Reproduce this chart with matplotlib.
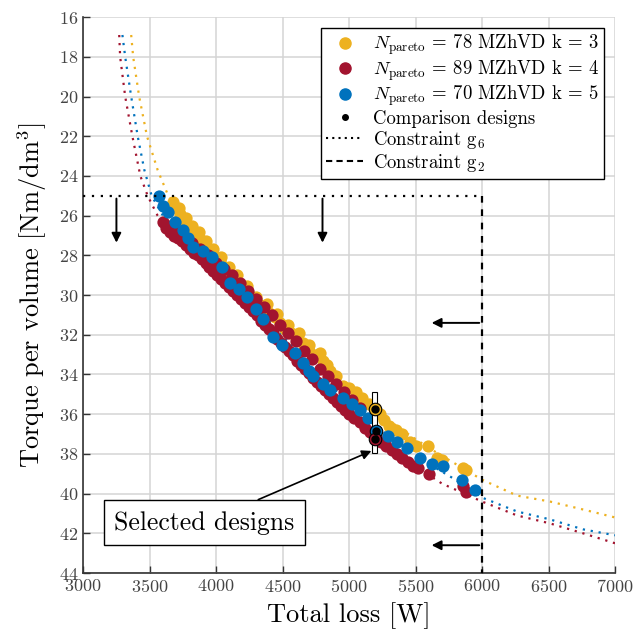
# Pareto fronts of three MZhVD runs with constraints g2 and g6
import numpy as np
import matplotlib
matplotlib.use('Agg')
import matplotlib.pyplot as plt
from matplotlib.lines import Line2D
from matplotlib.patches import Rectangle

plt.rcParams['font.family'] = 'serif'
plt.rcParams['font.serif'] = ['cmr10']
plt.rcParams['mathtext.fontset'] = 'cm'
plt.rcParams['axes.unicode_minus'] = False
plt.rcParams['axes.formatter.use_mathtext'] = True

c_yellow = '#EDB120'
c_red = '#A2142F'
c_blue = '#0072BD'

# pareto designs (total loss [W], torque per volume [Nm/dm3])
yellow_x = [3677, 3700, 3730, 3760, 3790, 3820, 3850, 3880, 3910, 3940, 3970, 4000,
            4030, 4060, 4090, 4120, 4150, 4180, 4210, 4250, 4290, 4330, 4353, 4400,
            4444, 4480, 4520, 4560, 4600, 4654, 4700, 4750, 4800, 4835, 4857, 4900,
            4955, 5000, 5050, 5100, 5150, 5196, 5230, 5260, 5300, 5350, 5400, 5459,
            5500, 5594, 5662, 5700, 5858, 5880,
            3720, 3770, 3820, 3870, 3920, 3980, 4040, 4100, 4160, 4230, 4300, 4380,
            4460, 4540, 4620, 4700, 4780]
yellow_y = [25.3, 25.6, 25.9, 26.2, 26.5, 26.8, 27.0, 27.2, 27.5, 27.7, 27.9, 28.1,
            28.3, 28.6, 28.8, 29.0, 29.3, 29.5, 29.7, 30.0, 30.3, 30.5, 30.6, 30.9,
            31.1, 31.4, 31.7, 31.9, 32.1, 32.4, 32.8, 33.0, 33.3, 33.5, 33.8, 34.1,
            34.6, 34.7, 34.9, 35.2, 35.5, 35.7, 36.0, 36.3, 36.6, 36.8, 37.0, 37.4,
            37.6, 37.6, 38.2, 38.3, 38.7, 38.8,
            25.6, 26.1, 26.5, 26.8, 27.3, 27.7, 28.1, 28.6, 29.0, 29.55, 30.1, 30.45,
            30.95, 31.5, 31.9, 32.5, 32.9]

red_x = [3600, 3620, 3650, 3680, 3710, 3740, 3770, 3800, 3830, 3860, 3890, 3920,
         3950, 3980, 4010, 4040, 4070, 4100, 4130, 4160, 4190, 4220, 4250, 4280,
         4310, 4340, 4370, 4400, 4430, 4460, 4490, 4520, 4550, 4580, 4610, 4640,
         4670, 4700, 4730, 4760, 4790, 4820, 4850, 4880, 4910, 4940, 4970, 5000,
         5040, 5080, 5120, 5160, 5200, 5240, 5280, 5320, 5360, 5400, 5440, 5480,
         5520, 5600, 5860, 5880,
         3640, 3700, 3760, 3820, 3880, 3940, 4000, 4060, 4120, 4180, 4240, 4300,
         4360, 4420, 4480, 4540, 4600, 4660, 4720, 4780, 4840, 4900, 4960, 5020,
         5080]
red_y = [26.3, 26.6, 26.8, 27.0, 27.1, 27.3, 27.5, 27.7, 27.9, 28.0, 28.2, 28.4,
         28.6, 28.8, 29.0, 29.2, 29.4, 29.6, 29.8, 30.0, 30.2, 30.4, 30.6, 30.8,
         31.0, 31.3, 31.5, 31.7, 31.9, 32.2, 32.4, 32.6, 32.8, 33.0, 33.3, 33.5,
         33.7, 33.9, 34.2, 34.4, 34.6, 34.8, 35.0, 35.2, 35.4, 35.6, 35.8, 36.0,
         36.2, 36.4, 36.7, 36.9, 37.1, 37.4, 37.6, 37.8, 38.0, 38.2, 38.4, 38.6,
         38.7, 39.0, 39.6, 39.9,
         26.5, 26.8, 27.1, 27.4, 27.7, 28.0, 28.4, 28.7, 29.0, 29.4, 29.8, 30.2,
         30.6, 31.0, 31.5, 31.9, 32.3, 32.8, 33.2, 33.7, 34.1, 34.5, 34.9, 35.3,
         35.7]

blue_x = [3572, 3600, 3640, 3692, 3752, 3790, 3827, 3900, 3970, 4045, 4105, 4170,
          4233, 4300, 4353, 4429, 4497, 4594, 4654, 4700, 4730, 4800, 4857, 4955,
          5020, 5083, 5140, 5203, 5294, 5360, 5436, 5534, 5624, 5707, 5850, 5948]
blue_y = [25.0, 25.5, 25.8, 26.3, 26.7, 27.1, 27.6, 27.8, 28.1, 28.6, 29.4, 29.7,
          30.1, 30.7, 31.2, 32.1, 32.5, 32.9, 33.4, 33.8, 34.1, 34.5, 34.8, 35.2,
          35.5, 35.8, 36.2, 36.85, 37.1, 37.4, 37.7, 38.2, 38.5, 38.6, 39.3, 39.8]

# fitted fronts
yellow_fit_x = [3361, 3376, 3421, 3480, 3560, 3640, 3800, 4000, 4200, 4400, 4600,
                4800, 5000, 5200, 5400, 5600, 5800, 6000, 6263, 6511, 6760, 7000]
yellow_fit_y = [16.9, 18.0, 20.0, 22.0, 23.7, 25.0, 26.6, 28.0, 29.4, 30.8, 32.1,
                33.4, 34.6, 35.8, 36.8, 37.7, 38.5, 39.3, 40.1, 40.4, 40.8, 41.2]
blue_fit_x = [3295, 3316, 3361, 3410, 3460, 3515, 3600, 3800, 4000, 4200, 4400, 4600,
              4800, 5000, 5200, 5400, 5600, 5800, 6000, 6263, 6511, 6760, 7000]
blue_fit_y = [16.9, 18.0, 20.0, 22.0, 23.7, 25.0, 26.0, 27.4, 28.6, 29.9, 31.3, 32.8,
              34.2, 35.4, 36.6, 37.6, 38.5, 39.3, 40.2, 40.9, 41.3, 41.8, 42.1]
red_fit_x = [3271, 3278, 3316, 3370, 3430, 3485, 3560, 3800, 4000, 4200, 4400, 4600,
             4880, 5105, 5400, 5700, 6000, 6263, 6511, 6760, 7000]
red_fit_y = [16.9, 18.0, 20.0, 22.0, 24.0, 25.0, 26.0, 27.9, 29.0, 30.3, 31.7, 33.2,
             35.4, 36.6, 38.2, 39.5, 40.4, 41.1, 41.5, 42.0, 42.5]

# selected (comparison) designs
sel_x = [5196, 5203, 5196]
sel_y = [35.75, 36.85, 37.25]
sel_colors = [c_yellow, c_blue, c_red]

fig = plt.figure(figsize=(6.35, 6.35), dpi=100)
ax = fig.add_subplot(111)
fig.subplots_adjust(left=0.131, right=0.9685, bottom=0.0976, top=0.973)

dot = (0, (1, 2.6))
ax.plot(yellow_fit_x, yellow_fit_y, color=c_yellow, ls=dot, lw=1.6, zorder=2)
ax.plot(blue_fit_x, blue_fit_y, color=c_blue, ls=dot, lw=1.6, zorder=2)
ax.plot(red_fit_x, red_fit_y, color=c_red, ls=dot, lw=1.6, zorder=2)

ms = 78
ax.scatter(yellow_x, yellow_y, s=ms, color=c_yellow, linewidths=0, zorder=3)
ax.scatter(red_x, red_y, s=ms, color=c_red, linewidths=0, zorder=3)
ax.scatter(blue_x, blue_y, s=ms, color=c_blue, linewidths=0, zorder=3)

# box around selected designs
ax.add_patch(Rectangle((5172, 34.9), 40, 3.05, facecolor='white', edgecolor='black',
                       lw=0.8, zorder=4))
for x, y, c in zip(sel_x, sel_y, sel_colors):
    ax.plot(x, y, 'o', ms=9, mfc=c, mec='black', mew=0.8, zorder=5)
    ax.plot(x, y, 'o', ms=5, color='black', zorder=6)

# constraints
ax.plot([3000, 6000], [25, 25], color='black', ls=(0, (1, 3)), lw=1.6, zorder=4)
ax.plot([6000, 6000], [25, 44], color='black', ls=(0, (3, 3)), lw=1.6, zorder=4)
arrow = dict(arrowstyle='-|>', color='black', lw=1.4, mutation_scale=14)
for x in [3250, 4800]:
    ax.annotate('', xy=(x, 27.5), xytext=(x, 25), arrowprops=arrow, zorder=4)
for y in [31.4, 42.6]:
    ax.annotate('', xy=(5600, y), xytext=(6000, y), arrowprops=arrow, zorder=4)

ax.annotate('Selected designs', xy=(5168, 37.85), xytext=(3912, 41.47),
            ha='center', va='center', fontsize=18.5,
            bbox=dict(boxstyle='square,pad=0.42', fc='white', ec='black', lw=1.0),
            arrowprops=dict(arrowstyle='-|>', color='black', lw=1.2, mutation_scale=14,
                            shrinkA=0, shrinkB=0),
            zorder=7)

ax.set_xlim(3000, 7000)
ax.set_ylim(44, 16)
ax.set_xticks(np.arange(3000, 7001, 500))
ax.set_yticks(np.arange(16, 45, 2))
ax.grid(True, color='#d4d4d4', lw=1.1)
ax.set_axisbelow(True)
for s in ['top', 'right']:
    ax.spines[s].set_visible(False)
for s in ['left', 'bottom']:
    ax.spines[s].set_color('#333333')
    ax.spines[s].set_linewidth(1.2)
ax.tick_params(direction='in', length=5, width=1.0, color='#333333',
               labelsize=13, labelcolor='#444444')
ax.set_xlabel('Total loss [W]', fontsize=19, labelpad=5)
ax.set_ylabel(r'Torque per volume [Nm/dm$^3$]', fontsize=19, labelpad=7)

handles = [
    Line2D([], [], ls='none', marker='o', ms=8, color=c_yellow),
    Line2D([], [], ls='none', marker='o', ms=8, color=c_red),
    Line2D([], [], ls='none', marker='o', ms=8, color=c_blue),
    Line2D([], [], ls='none', marker='o', ms=4, color='black'),
    Line2D([], [], color='black', ls=(0, (1, 2)), lw=1.5),
    Line2D([], [], color='black', ls=(0, (3, 2)), lw=1.5),
]
labels = [
    r'$N_{\mathrm{pareto}}$ = 78 MZhVD k = 3',
    r'$N_{\mathrm{pareto}}$ = 89 MZhVD k = 4',
    r'$N_{\mathrm{pareto}}$ = 70 MZhVD k = 5',
    'Comparison designs',
    r'Constraint $\mathrm{g}_6$',
    r'Constraint $\mathrm{g}_2$',
]
leg = ax.legend(handles, labels, loc='upper right', fontsize=13.5, frameon=True,
                fancybox=False, framealpha=1, edgecolor='black', borderaxespad=0.6,
                handlelength=2.0, handletextpad=0.5, labelspacing=0.06,
                borderpad=0.25)
leg.get_frame().set_linewidth(1.0)
leg.set_zorder(10)

fig.savefig('out.png', dpi=100)
